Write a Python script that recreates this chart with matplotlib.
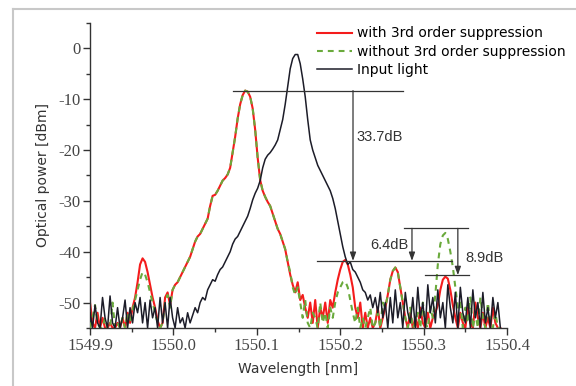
import numpy as np
import matplotlib
matplotlib.use("Agg")
import matplotlib.pyplot as plt
from matplotlib.lines import Line2D

plt.rcParams["font.family"] = ["Liberation Serif", "DejaVu Serif"]
plt.rcParams["axes.unicode_minus"] = False

# wavelength range of the OSA trace (nm), sampled every 3 pm
wl_start, wl_stop = 1549.900, 1550.392

# power in dBm, one row = 10 samples (30 pm)
input_light = [
    -52, -55, -50.5, -54, -55, -49, -53, -55, -48.7, -54,
    -55, -51, -55, -53, -49.5, -55, -51, -54, -50, -52,
    -49, -54, -50, -55, -49.5, -53, -51, -55, -49, -54,
    -50, -55, -49, -53, -55, -51, -54, -53, -55, -52,
    -54, -52.5, -51, -52, -50, -49, -49.5, -47.5, -46.5, -45.5,
    -45.8, -44.5, -43.5, -43, -42, -41, -40, -38.5, -37.5, -37,
    -36, -35, -34, -33, -31.5, -29.8, -28.5, -27.5, -26, -23.5,
    -21.8, -21, -20.5, -19.8, -19, -18, -16, -14, -11, -7.5,
    -4, -2, -1.2, -1.2, -3, -6, -9.5, -14, -18, -20,
    -21.5, -23, -24, -25, -26, -27, -28, -29.5, -31.5, -34,
    -36.5, -39, -41, -42.5, -42, -43.5, -44, -45, -46, -47.5,
    -48, -49.5, -48.5, -51, -49, -52, -48, -53, -50, -55,
    -49, -54, -47.5, -53, -50, -55, -48, -52, -54, -49,
    -55, -47, -53, -50, -55, -46.5, -52, -49, -54, -47.5,
    -53, -50, -55, -46.5, -51, -54, -48, -55, -47, -52,
    -54, -49, -55, -47.5, -53, -50, -55, -48, -54, -51,
    -55, -49, -53, -50, -55,
]

with_supp = [
    -50, -54, -55, -52, -55, -53, -55, -55, -54, -55,
    -55, -54, -55, -53, -55, -52, -54, -51, -49, -46,
    -42.5, -41.3, -42, -44, -46.5, -49, -51, -53.5, -55, -54,
    -49, -48, -50.5, -47.5, -46.5, -46, -45, -44, -43, -42,
    -41, -39.5, -38, -37, -36.5, -35.5, -34.5, -33.5, -31, -29,
    -28.8, -28, -27, -26, -25.5, -24.8, -23.5, -20.5, -17.4, -13.8,
    -11, -9.2, -8.3, -8.5, -9.5, -11.8, -16, -21.5, -25.9, -28,
    -29.2, -30.2, -31, -32.5, -34, -35.5, -36.5, -38, -39.5, -42,
    -44.5, -46.5, -48, -46, -49.5, -48.5, -51, -53, -50, -54,
    -49.5, -55, -51, -53, -50, -54, -49.5, -51, -48, -45.5,
    -43.5, -42, -41.6, -42.5, -44.5, -47, -51, -53, -50, -55,
    -52, -55, -53, -55, -54, -51, -55, -53, -51, -48.5,
    -45.5, -43.8, -43.1, -44, -47, -50, -53, -55, -52, -55,
    -53, -55, -51, -54, -55, -52, -55, -53, -52, -50.5,
    -47.5, -45.5, -44.9, -45.3, -47.5, -50.5, -53, -55, -52, -54,
    -55, -51, -54, -55, -50, -53, -55, -52, -55, -53,
    -55, -51, -54, -55, -55,
]

without_supp = [
    -55, -53, -50.5, -54, -55, -55, -53, -55, -55, -50,
    -55, -54, -55, -53, -55, -52, -54, -51.5, -49.5, -47.5,
    -45.5, -44, -44.5, -46, -48, -50, -52, -54, -55, -54,
    -50, -48.5, -51, -47.5, -46.5, -46, -45, -44, -43, -42,
    -41, -39.5, -38, -37, -36.5, -35.5, -34.5, -33.5, -31, -29,
    -28.8, -28, -27, -26, -25.5, -24.8, -23.5, -20.5, -17.4, -13.8,
    -11, -9.2, -8.3, -8.5, -9.5, -11.8, -16, -21.5, -25.9, -28,
    -29.2, -30.2, -31, -32.5, -34, -35.5, -36.5, -38, -39.5, -42,
    -44, -47, -48.5, -47, -50, -53, -49.5, -54, -55, -52,
    -53, -55, -50, -54, -52, -55, -51, -53, -50, -48,
    -47, -46, -45.8, -47, -49.5, -52, -54, -51, -55, -53,
    -55, -53, -51, -55, -54, -52, -55, -50, -51, -48.5,
    -45.5, -43.8, -43.1, -44, -47, -50, -53, -55, -51, -55,
    -54, -52, -55, -50, -54, -55, -51, -53, -48.5, -42.5,
    -38.5, -36.8, -36.3, -37.5, -40, -43, -47, -51, -50, -55,
    -51, -54, -49, -55, -52, -55, -49, -53, -55, -50,
    -54, -55, -52, -55, -55,
]

series_labels = ["with 3rd order suppression", "without 3rd order suppression", "Input light"]

# suppression ratio markers
ref_top = -8.3
ref_mid = -41.8
ref_upper = -35.4
ref_low = -44.6
x_337 = 1550.2153
x_64 = 1550.286
x_89 = 1550.341

c_red = "#f41c1c"
c_green = "#6aaa3c"
c_black = "#1c1c28"

fig = plt.figure(figsize=(5.76, 3.86), dpi=100)
ax = fig.add_axes([0.1563, 0.1503, 0.7240, 0.7901])

x1 = np.linspace(wl_start, wl_stop, len(with_supp))
x2 = np.linspace(wl_start, wl_stop, len(without_supp))
x3 = np.linspace(wl_start, wl_stop, len(input_light))

ax.plot(x1, with_supp, color=c_red, lw=1.5, label=series_labels[0], zorder=2)
ax.plot(x2, without_supp, color=c_green, lw=1.5, dashes=(2.8, 2.4),
        label=series_labels[1], zorder=3)
ax.plot(x3, input_light, color=c_black, lw=1.1, label=series_labels[2], zorder=4)

ax.set_xlim(1549.9, 1550.4)
ax.set_ylim(-55, 5)

# annotation lines
lk = dict(color="#333333", lw=0.9, zorder=5)
ax.plot([1550.0715, 1550.275], [ref_top, ref_top], **lk)
ax.plot([1550.172, 1550.334], [ref_mid, ref_mid], **lk)
ax.plot([1550.2765, 1550.353], [ref_upper, ref_upper], **lk)
ax.plot([1550.302, 1550.354], [ref_low, ref_low], **lk)
ap = dict(arrowstyle="-|>,head_length=0.5,head_width=0.18", color="#333333",
          lw=0.9, shrinkA=0, shrinkB=0)
ax.annotate("", xy=(x_337, ref_mid), xytext=(x_337, ref_top), arrowprops=ap, zorder=5)
ax.annotate("", xy=(x_64, ref_mid), xytext=(x_64, ref_upper), arrowprops=ap, zorder=5)
ax.annotate("", xy=(x_89, ref_low), xytext=(x_89, ref_upper), arrowprops=ap, zorder=5)

tk = dict(family="Liberation Sans", fontsize=10.5, color="#333333", va="center")
ax.text(1550.2195, -17.5, "33.7dB", ha="left", **tk)
ax.text(1550.2815, -38.6, "6.4dB", ha="right", **tk)
ax.text(1550.3495, -41.2, "8.9dB", ha="left", **tk)

# axes styling
for s in ["top", "right"]:
    ax.spines[s].set_visible(False)
for s in ["left", "bottom"]:
    ax.spines[s].set_color("#333333")
    ax.spines[s].set_linewidth(1.0)
ax.set_xticks([1549.9, 1550.0, 1550.1, 1550.2, 1550.3, 1550.4])
ax.set_xticklabels(["1549.9", "1550.0", "1550.1", "1550.2", "1550.3", "1550.4"])
ax.set_xticks(np.arange(1549.95, 1550.4, 0.1), minor=True)
ax.set_yticks([0, -10, -20, -30, -40, -50])
ax.set_yticks([5, -5, -15, -25, -35, -45, -55], minor=True)
ax.tick_params(which="major", direction="out", length=5, width=1.0, color="#333333",
               labelsize=12, labelcolor="#444444", pad=2)
ax.tick_params(which="minor", direction="out", length=3, width=1.0, color="#333333")

ax.set_xlabel("Wavelength [nm]", family="DejaVu Sans", fontsize=10, color="#333333", labelpad=6)
ax.set_ylabel("Optical power [dBm]", family="DejaVu Sans", fontsize=10, color="#333333", labelpad=6)

ax.legend(loc="upper left", bbox_to_anchor=(0.531, 1.007), frameon=False,
          prop=dict(family="DejaVu Sans", size=10), handlelength=2.5,
          handletextpad=0.36, labelspacing=0.3, borderaxespad=0)

# light grey frame around the figure (left and top edges)
fig.add_artist(Line2D([13 / 576, 13 / 576], [0, 1 - 9 / 386], color="#c8c8c8", lw=1.5))
fig.add_artist(Line2D([13 / 576, 1], [1 - 9 / 386, 1 - 9 / 386], color="#c8c8c8", lw=1.5))

fig.savefig("out.png", dpi=100, facecolor="white")
